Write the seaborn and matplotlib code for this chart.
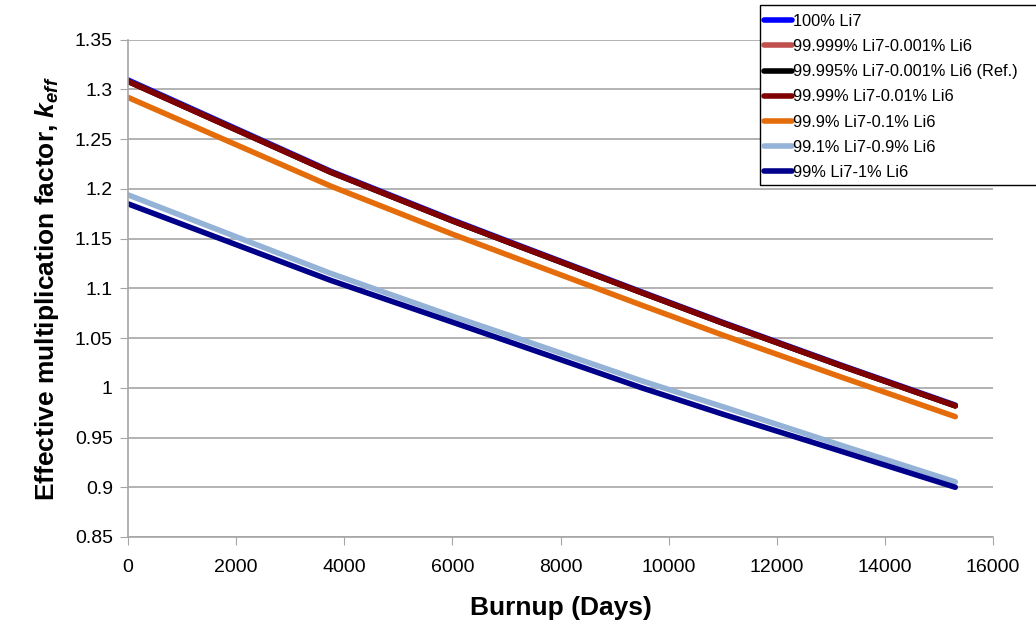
import seaborn as sns
import pandas as pd
import matplotlib.pyplot as plt
from matplotlib.patches import Rectangle

# burnup days
days = [0, 3750, 6000, 7250, 9500, 11000, 13200, 15300]

li7_100 = [1.3095, 1.2177, 1.1688, 1.1428, 1.0964, 1.0658, 1.0226, 0.9826]
li7_99999 = [1.3085, 1.2170, 1.1680, 1.1420, 1.0958, 1.0652, 1.0220, 0.9820]
li7_99995 = [1.3083, 1.2168, 1.1679, 1.1419, 1.0957, 1.0651, 1.0219, 0.9819]
li7_9999 = [1.3080, 1.2167, 1.1678, 1.1420, 1.0956, 1.0650, 1.0218, 0.9818]
li7_999 = [1.2920, 1.2028, 1.1545, 1.1289, 1.0831, 1.0530, 1.0106, 0.9710]
li7_991 = [1.1940, 1.1150, 1.0720, 1.0490, 1.0070, 0.9810, 0.9420, 0.9054]
li7_99 = [1.1850, 1.1080, 1.0660, 1.0425, 1.0000, 0.9735, 0.9360, 0.9000]

labels = ["100% Li7", "99.999% Li7-0.001% Li6", "99.995% Li7-0.001% Li6 (Ref.)",
          "99.99% Li7-0.01% Li6", "99.9% Li7-0.1% Li6", "99.1% Li7-0.9% Li6",
          "99% Li7-1% Li6"]
series = [li7_100, li7_99999, li7_99995, li7_9999, li7_999, li7_991, li7_99]
colors = ["#0000FF", "#C0504D", "#000000", "#7F0000", "#E46C0A", "#95B3D7", "#00008B"]

rows = []
for lab, vals in zip(labels, series):
    for d, v in zip(days, vals):
        rows.append({"Burnup": d, "keff": v, "case": lab})
df = pd.DataFrame(rows)

sns.set_style("white")
plt.rcParams['font.family'] = ['Liberation Sans', 'DejaVu Sans']
plt.rcParams['mathtext.fontset'] = 'custom'
plt.rcParams['mathtext.it'] = 'Liberation Sans:italic:bold'
plt.rcParams['mathtext.rm'] = 'Liberation Sans:bold'
plt.rcParams['text.color'] = 'black'
plt.rcParams['axes.labelcolor'] = 'black'
plt.rcParams['xtick.labelcolor'] = 'black'
plt.rcParams['ytick.labelcolor'] = 'black'

fig = plt.figure(figsize=(10.36, 6.31), dpi=100)
ax = fig.add_axes([0.1236, 0.149, 0.835, 0.788])

sns.lineplot(data=df, x="Burnup", y="keff", hue="case", hue_order=labels,
             palette=dict(zip(labels, colors)), linewidth=4, ax=ax,
             solid_capstyle="round", legend=True)

ax.set_xlim(0, 16000)
ax.set_ylim(0.85, 1.35)
ax.set_xticks(range(0, 16001, 2000))
ax.set_yticks([0.85 + 0.05 * i for i in range(11)])
ax.set_yticklabels(["0.85", "0.9", "0.95", "1", "1.05", "1.1", "1.15", "1.2",
                    "1.25", "1.3", "1.35"])
ax.yaxis.grid(True, color="#A6A6A6", linewidth=1.2)
ax.set_axisbelow(True)
for s in ["top", "right"]:
    ax.spines[s].set_visible(False)
for s in ["left", "bottom"]:
    ax.spines[s].set_color("#A6A6A6")
    ax.spines[s].set_linewidth(1.2)
ax.tick_params(axis="both", labelsize=14, length=6, color="#A6A6A6",
               labelcolor="black", direction="out", left=True, bottom=True)
ax.tick_params(axis="x", pad=10)
ax.tick_params(axis="y", pad=5)

ax.set_xlabel("Burnup (Days)", fontsize=19, fontweight="bold", labelpad=14,
              color="black")
ax.set_ylabel(r"Effective multiplication factor, $k_{eff}$", fontsize=19,
              fontweight="bold", labelpad=10, color="black")

# legend box runs off the right edge of the picture
box = Rectangle((760 / 1036, 1 - 185 / 631), 0.3, 180 / 631, transform=fig.transFigure,
                facecolor="white", edgecolor="black", linewidth=1.0,
                clip_on=False, zorder=4.5)
ax.add_artist(box)

leg = ax.legend(loc="upper left", bbox_to_anchor=(759 / 1036, 1 - 9 / 631),
                bbox_transform=fig.transFigure, frameon=False,
                fontsize=11.8, handlelength=1.7, handletextpad=0.08,
                labelspacing=0.62, borderpad=0.3, borderaxespad=0)
leg.set_zorder(5)
for h in leg.get_lines():
    h.set_linewidth(4)
for t in leg.get_texts():
    t.set_color("black")

fig.savefig("out.png", dpi=100)
